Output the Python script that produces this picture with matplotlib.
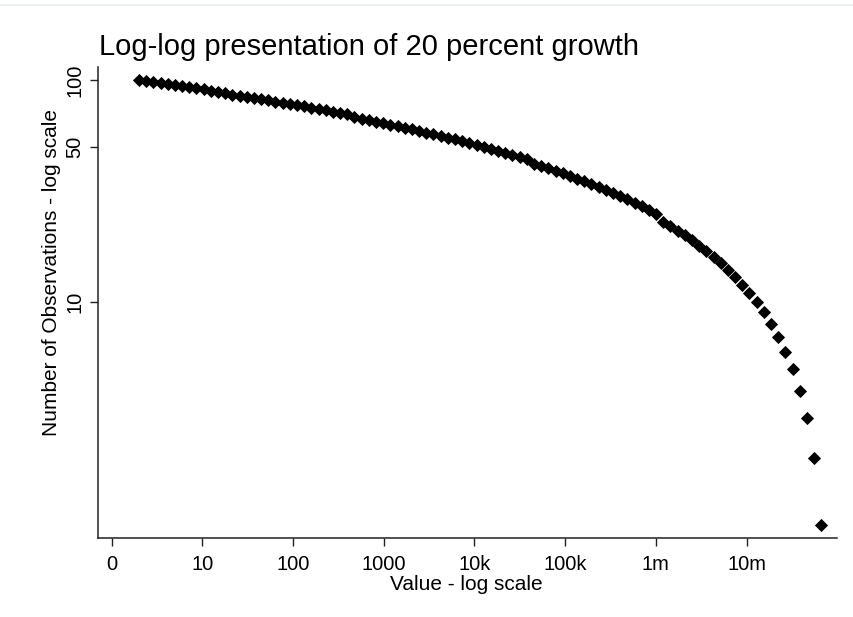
import matplotlib
matplotlib.use("Agg")
import matplotlib.pyplot as plt
from matplotlib.lines import Line2D
from matplotlib.ticker import FixedLocator, FixedFormatter, NullLocator

plt.rcParams['font.family'] = ['Liberation Sans', 'DejaVu Sans']

# Values growing 20 percent per step
values = [
    2, 2.4, 2.88, 3.456, 4.147, 4.977, 5.972, 7.166, 8.600, 10.32,
    12.38, 14.86, 17.83, 21.40, 25.68, 30.81, 36.98, 44.37, 53.25, 63.90,
    76.68, 92.01, 110.4, 132.5, 159.0, 190.8, 229.0, 274.7, 329.7, 395.6,
    474.8, 569.7, 683.6, 820.4, 984.4, 1181, 1418, 1701, 2041, 2450,
    2940, 3527, 4233, 5080, 6095, 7315, 8777, 10533, 12639, 15167,
    18201, 21841, 26209, 31451, 37741, 45290, 54348, 65217, 78260, 93912,
    112695, 135234, 162281, 194737, 233684, 280421, 336506, 403807, 484568, 581482,
    697778, 837333, 1004800, 1205760, 1446912, 1736295, 2083554, 2500264, 3000317, 3600381,
    4320457, 5184548, 6221458, 7465750, 8958900, 10750679, 12900815, 15480978, 18577174, 22292609,
    26751131, 32101357, 38521628, 46225954, 55471144, 66565373,
]

# Number of observations at or above each value
counts = [
    100, 99, 98, 97, 96, 95, 94, 93, 92, 91,
    89, 88, 87, 86, 85, 84, 83, 82, 81, 80,
    79, 78, 77, 76, 75, 74, 73, 72, 71, 70,
    68, 67, 66, 65, 64, 63, 62, 61, 60, 59,
    58, 57, 56, 55, 54, 53, 52, 51, 50, 49,
    48, 47, 46, 45, 44, 42, 41, 40, 39, 38,
    37, 36, 35, 34, 33, 32, 31, 30, 29, 28,
    27, 26, 25, 23, 22, 21, 20, 19, 18, 17,
    16, 15, 14, 13, 12, 11, 10, 9, 8, 7,
    6, 5, 4, 3, 2, 1,
]

x_tick_values = [1, 10, 100, 1000, 1e4, 1e5, 1e6, 1e7]
x_tick_labels = ["0", "10", "100", "1000", "10k", "100k", "1m", "10m"]
y_tick_values = [10, 50, 100]
y_tick_labels = ["10", "50", "100"]

W, H = 854, 617
fig = plt.figure(figsize=(W / 100, H / 100), dpi=100)
fig.patch.set_facecolor("white")

ax_l, ax_r, ax_t, ax_b = 98, 837, 67, 538
ax = fig.add_axes([ax_l / W, (H - ax_b) / H, (ax_r - ax_l) / W, (ax_b - ax_t) / H])

ax.plot(values, counts, linestyle="none", marker="D", markersize=6.0,
        markerfacecolor="black", markeredgecolor="black", markeredgewidth=0.6)

ax.set_xscale("log")
ax.set_yscale("log")
ax.set_xlim(0.706, 9.93e7)
ax.set_ylim(0.870, 114.4)

ax.xaxis.set_major_locator(FixedLocator(x_tick_values))
ax.xaxis.set_major_formatter(FixedFormatter(x_tick_labels))
ax.xaxis.set_minor_locator(NullLocator())
ax.yaxis.set_major_locator(FixedLocator(y_tick_values))
ax.yaxis.set_major_formatter(FixedFormatter(y_tick_labels))
ax.yaxis.set_minor_locator(NullLocator())

for side in ("top", "right"):
    ax.spines[side].set_visible(False)
for side in ("left", "bottom"):
    ax.spines[side].set_linewidth(1.1)
    ax.spines[side].set_color("#222222")

ax.tick_params(axis="x", direction="out", length=5.5, width=1.0, pad=6.5,
               labelsize=14.5, colors="#222222", labelcolor="black")
ax.tick_params(axis="y", direction="out", length=5.5, width=1.0, pad=4.5,
               labelsize=14.5, colors="#222222", labelcolor="black")
for lab in ax.get_yticklabels():
    lab.set_rotation(90)
    lab.set_va("center")

ax.set_xlabel("Value - log scale", fontsize=15, va="baseline")
ax.xaxis.set_label_coords(0.498, (ax_b - 590) / (ax_b - ax_t))
ax.set_ylabel("Number of Observations - log scale", fontsize=15, va="baseline")
ax.yaxis.set_label_coords((56.7 - ax_l) / (ax_r - ax_l), (ax_b - 272) / (ax_b - ax_t))

fig.text(99.5 / W, 1 - 55 / H, "Log-log presentation of 20 percent growth",
         fontsize=21, ha="left", va="baseline", color="black")

# thin light rule along the top edge
fig.add_artist(Line2D([0, 1], [1 - 5 / H, 1 - 5 / H], transform=fig.transFigure,
                      color="#e6ecf0", linewidth=1.2))

fig.savefig("out.png", dpi=100, facecolor="white")
